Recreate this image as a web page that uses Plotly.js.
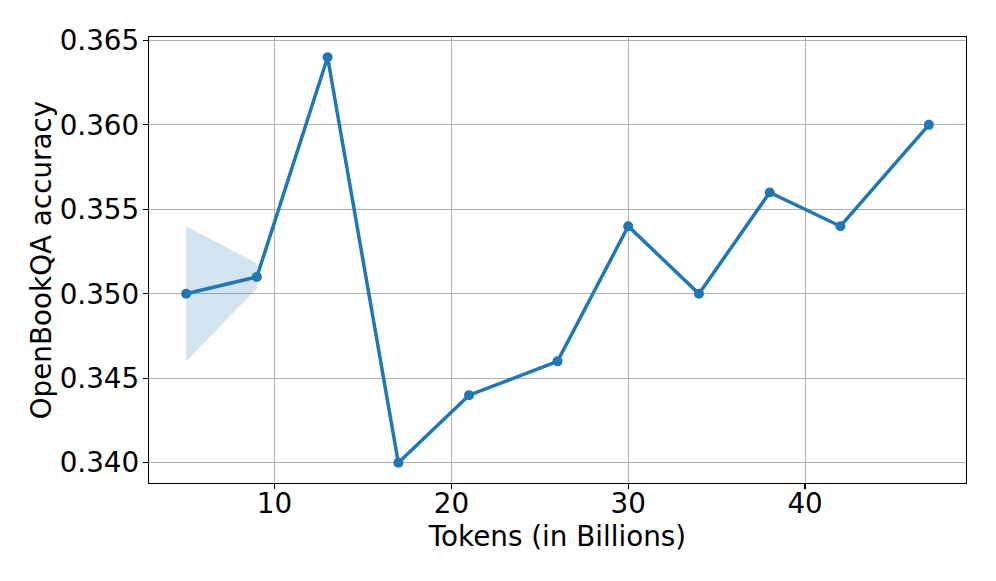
<!DOCTYPE html>
<html>
<head>
<meta charset="utf-8">
<script src="https://cdn.plot.ly/plotly-3.0.1.min.js"></script>
<style>
  body { margin: 0; padding: 0; background: #fff; }
  #chartContainer { width: 996px; height: 581px; }
</style>
</head>
<body>
<div id="chartContainer"></div>
<script>
// tokens seen (billions) and accuracy
var tokens = [5, 9, 13, 17, 21, 26, 30, 34, 38, 42, 47];
var accuracy = [0.350, 0.351, 0.364, 0.340, 0.344, 0.346, 0.354, 0.350, 0.356, 0.354, 0.360];

// shaded spread, only present for first two checkpoints
var bandX = [5, 9];
var bandUpper = [0.354, 0.3518];
var bandLower = [0.346, 0.3503];

var blue = '#1f77b4';

var band = {
    x: bandX.concat(bandX.slice().reverse()),
    y: bandUpper.concat(bandLower.slice().reverse()),
    type: 'scatter',
    mode: 'none',
    fill: 'toself',
    fillcolor: 'rgba(31, 119, 180, 0.2)',
    hoverinfo: 'skip'
};

var trace0 = {
    x: tokens,
    y: accuracy,
    type: 'scatter',
    mode: 'lines+markers',
    line: {color: blue, width: 3.5},
    marker: {color: blue, size: 10}
};

var axisCommon = {
    showline: true,
    mirror: true,
    linecolor: '#000',
    linewidth: 1.2,
    ticks: 'outside',
    ticklen: 5,
    tickwidth: 1.2,
    tickcolor: '#000',
    showgrid: true,
    gridcolor: '#b0b0b0',
    gridwidth: 1,
    zeroline: false,
    tickfont: {size: 27.8, color: '#000'}
};

var layout = {
    width: 996,
    height: 581,
    margin: {l: 149, r: 30, t: 37, b: 98},
    showlegend: false,
    paper_bgcolor: '#fff',
    plot_bgcolor: '#fff',
    font: {family: 'DejaVu Sans, sans-serif', color: '#000'},
    xaxis: Object.assign({}, axisCommon, {
        range: [2.9, 49.1],
        tickvals: [10, 20, 30, 40],
        ticklabelstandoff: -10,
        title: {text: 'Tokens (in Billions)', font: {size: 27.8}, standoff: 0}
    }),
    yaxis: Object.assign({}, axisCommon, {
        range: [0.3388, 0.3652],
        dtick: 0.005,
        tick0: 0.34,
        tickformat: '.3f',
        ticklabelstandoff: -2,
        title: {text: 'OpenBookQA accuracy', font: {size: 27.8}, standoff: 0}
    })
};

Plotly.newPlot('chartContainer', [band, trace0], layout, {displayModeBar: false, staticPlot: true});
</script>
</body>
</html>
